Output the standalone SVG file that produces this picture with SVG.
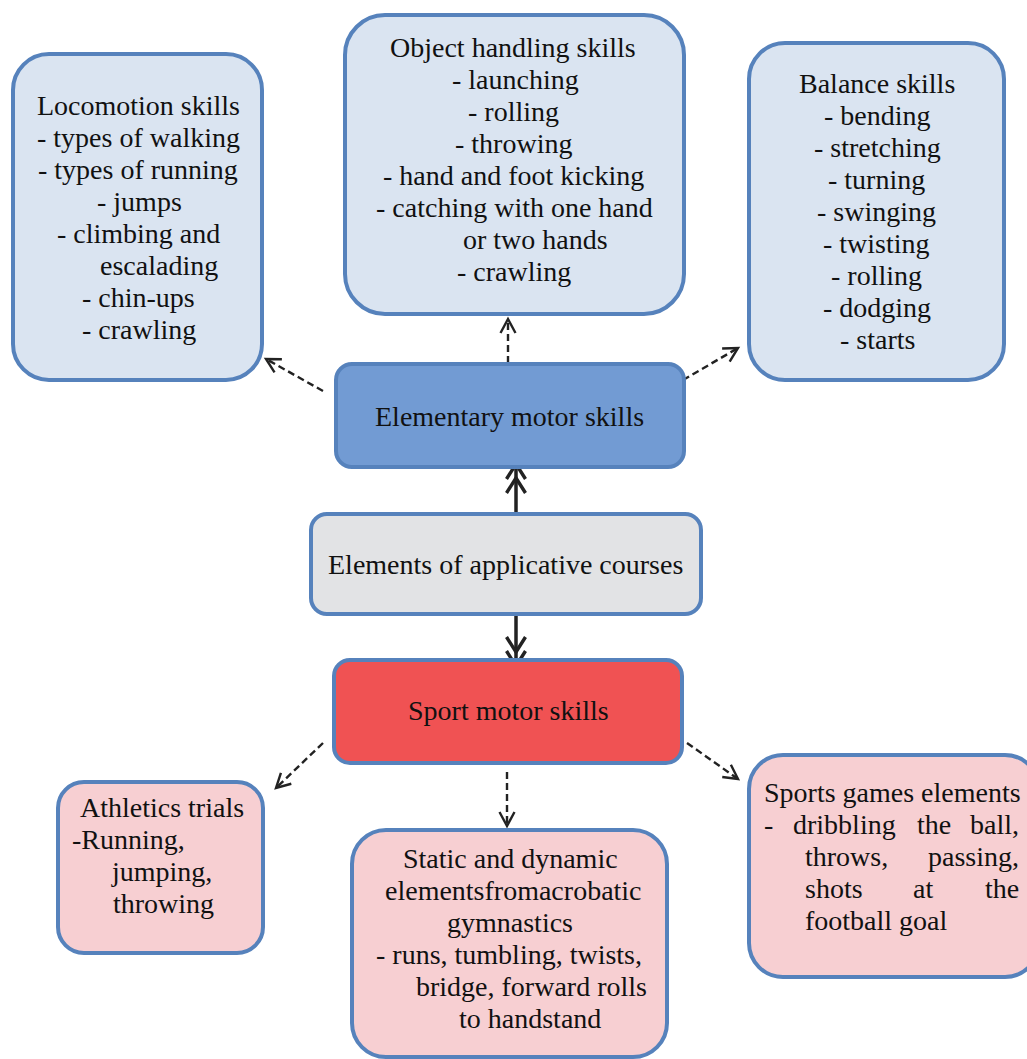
<svg xmlns="http://www.w3.org/2000/svg" width="1027" height="1059" viewBox="0 0 1027 1059">
<style>
  .box { stroke: #5682bc; stroke-width: 4; }
  .lb { fill: #dae4f1; }
  .eb { fill: #729bd3; }
  .gb { fill: #e2e3e5; }
  .rb { fill: #f05253; }
  .pb { fill: #f7cfd2; }
  .t { font-family: 'Liberation Serif', 'DejaVu Serif', 'Noto Serif', serif; font-size: 28px; fill: #111; }
  .dash { stroke: #222; stroke-width: 2.4; stroke-dasharray: 7 4; fill: none; }
  .solid { stroke: #222; stroke-width: 3.5; fill: none; }
</style>
<defs>
  <marker id="open" markerUnits="userSpaceOnUse" viewBox="-16 -10 20 20" refX="0" refY="0" markerWidth="20" markerHeight="20" orient="auto">
    <path d="M -14 -7.5 L 0 0 L -14 7.5" fill="none" stroke="#222" stroke-width="2.4"/>
  </marker>
  <marker id="dbl" markerUnits="userSpaceOnUse" viewBox="-34 -14 38 28" refX="0" refY="0" markerWidth="38" markerHeight="28" orient="auto">
    <path d="M -15 -9.5 L 0 0 L -15 9.5 M -29 -9.5 L -14 0 L -29 9.5" fill="none" stroke="#222" stroke-width="3.4"/>
  </marker>
</defs>

<g id="connectors">
  <line class="dash" x1="323" y1="391" x2="266" y2="359" marker-end="url(#open)"/>
  <line class="dash" x1="508" y1="363" x2="508" y2="319" marker-end="url(#open)"/>
  <line class="dash" x1="683" y1="380" x2="738" y2="348" marker-end="url(#open)"/>
  <line class="solid" x1="516" y1="512" x2="516" y2="464" marker-end="url(#dbl)"/>
  <line class="solid" x1="516" y1="615" x2="516" y2="666" marker-end="url(#dbl)"/>
  <line class="dash" x1="323" y1="743" x2="276" y2="788" marker-end="url(#open)"/>
  <line class="dash" x1="507" y1="772" x2="507" y2="826" marker-end="url(#open)"/>
  <line class="dash" x1="687" y1="743" x2="738" y2="779" marker-end="url(#open)"/>
</g>

<g id="locomotion" class="t" font-family="Liberation Serif, DejaVu Serif, serif">
  <rect class="box lb" x="13" y="54" width="249" height="326" rx="36"/>
  <text x="37" y="115">Locomotion skills</text>
  <text x="37" y="147">- types of walking</text>
  <text x="38" y="179">- types of running</text>
  <text x="97" y="211">- jumps</text>
  <text x="57" y="243">- climbing and</text>
  <text x="100" y="275">escalading</text>
  <text x="82" y="307">- chin-ups</text>
  <text x="82" y="339">- crawling</text>
</g>

<g id="object" class="t" font-family="Liberation Serif, DejaVu Serif, serif">
  <rect class="box lb" x="345" y="15" width="339" height="299" rx="40"/>
  <text x="390" y="57">Object handling skills</text>
  <text x="452" y="89">- launching</text>
  <text x="468" y="121">- rolling</text>
  <text x="455" y="153">- throwing</text>
  <text x="383" y="185">- hand and foot kicking</text>
  <text x="376" y="217">- catching with one hand</text>
  <text x="463" y="249">or two hands</text>
  <text x="457" y="281">- crawling</text>
</g>

<g id="balance" class="t" font-family="Liberation Serif, DejaVu Serif, serif">
  <rect class="box lb" x="749" y="43" width="255" height="337" rx="36"/>
  <text x="799" y="93">Balance skills</text>
  <text x="824" y="125">- bending</text>
  <text x="814" y="157">- stretching</text>
  <text x="828" y="189">- turning</text>
  <text x="817" y="221">- swinging</text>
  <text x="823" y="253">- twisting</text>
  <text x="831" y="285">- rolling</text>
  <text x="823" y="317">- dodging</text>
  <text x="840" y="349">- starts</text>
</g>

<g id="elementary" class="t" font-family="Liberation Serif, DejaVu Serif, serif">
  <rect class="box eb" x="336" y="364" width="348" height="103" rx="16"/>
  <text x="375" y="426">Elementary motor skills</text>
</g>

<g id="applicative" class="t" font-family="Liberation Serif, DejaVu Serif, serif">
  <rect class="box gb" x="311" y="514" width="390" height="100" rx="16"/>
  <text x="328" y="574">Elements of applicative courses</text>
</g>

<g id="sport" class="t" font-family="Liberation Serif, DejaVu Serif, serif">
  <rect class="box rb" x="334" y="660" width="348" height="103" rx="16"/>
  <text x="408" y="720">Sport motor skills</text>
</g>

<g id="athletics" class="t" font-family="Liberation Serif, DejaVu Serif, serif">
  <rect class="box pb" x="58" y="782" width="205" height="171" rx="26"/>
  <text x="80" y="817">Athletics trials</text>
  <text x="72" y="849">-Running,</text>
  <text x="112" y="881">jumping,</text>
  <text x="113" y="913">throwing</text>
</g>

<g id="static" class="t" font-family="Liberation Serif, DejaVu Serif, serif">
  <rect class="box pb" x="352" y="830" width="315" height="227" rx="34"/>
  <text x="403" y="868">Static and dynamic</text>
  <text x="385" y="900">elementsfromacrobatic</text>
  <text x="447" y="932">gymnastics</text>
  <text x="376" y="964">- runs, tumbling, twists,</text>
  <text x="416" y="996">bridge, forward rolls</text>
  <text x="459" y="1028">to handstand</text>
</g>

<g id="sportsgames" class="t" font-family="Liberation Serif, DejaVu Serif, serif">
  <rect class="box pb" x="749" y="755" width="290" height="222" rx="34"/>
  <text x="764" y="802">Sports games elements</text>
  <text x="764" y="834">-</text>
  <text x="793" y="834">dribbling</text>
  <text x="917" y="834">the</text>
  <text x="970" y="834">ball,</text>
  <text x="805" y="866">throws,</text>
  <text x="928" y="866">passing,</text>
  <text x="805" y="898">shots</text>
  <text x="913" y="898">at</text>
  <text x="985" y="898">the</text>
  <text x="805" y="930">football goal</text>
</g>
</svg>
